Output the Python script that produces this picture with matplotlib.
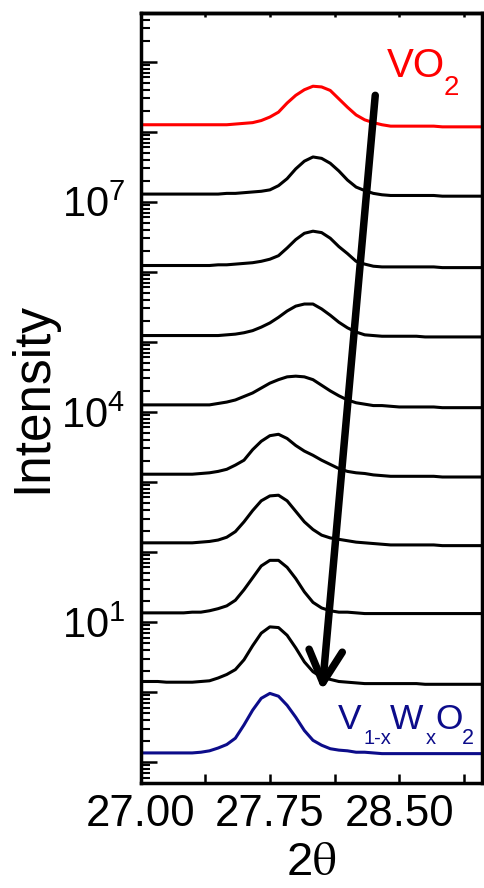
import numpy as np
import matplotlib
matplotlib.use("Agg")
import matplotlib.pyplot as plt
from matplotlib.ticker import FixedLocator, FuncFormatter, LogLocator, NullFormatter

plt.rcParams['font.family'] = ['Liberation Sans', 'DejaVu Sans']
plt.rcParams['mathtext.fontset'] = 'custom'
plt.rcParams['mathtext.rm'] = 'Liberation Sans'
plt.rcParams['mathtext.it'] = 'Liberation Sans:italic'
plt.rcParams['mathtext.bf'] = 'Liberation Sans:bold'

# 2theta sampling (deg)
two_theta = [27.00, 27.05, 27.10, 27.15, 27.20, 27.25, 27.30, 27.35, 27.40, 27.45,
             27.50, 27.55, 27.60, 27.65, 27.70, 27.75, 27.80, 27.85, 27.90, 27.95,
             28.00, 28.05, 28.10, 28.15, 28.20, 28.25, 28.30, 28.35, 28.40, 28.45,
             28.50, 28.55, 28.60, 28.65, 28.70, 28.75, 28.80, 28.85, 28.90, 28.95, 29.00]

# log10(intensity), stacked patterns from VO2 (top) to V1-xWxO2 (bottom)
vo2 = [8.10, 8.10, 8.10, 8.10, 8.10, 8.10, 8.10, 8.10, 8.10, 8.10,
       8.10, 8.11, 8.12, 8.13, 8.16, 8.21, 8.28, 8.41, 8.52, 8.60,
       8.65, 8.64, 8.59, 8.47, 8.35, 8.24, 8.17, 8.13, 8.10, 8.08,
       8.08, 8.08, 8.08, 8.08, 8.08, 8.07, 8.07, 8.07, 8.07, 8.07, 8.07]
s2 = [7.11, 7.11, 7.11, 7.11, 7.11, 7.11, 7.11, 7.11, 7.11, 7.11,
      7.12, 7.12, 7.13, 7.14, 7.15, 7.17, 7.23, 7.33, 7.47, 7.58,
      7.64, 7.62, 7.55, 7.44, 7.31, 7.21, 7.16, 7.12, 7.10, 7.09,
      7.09, 7.09, 7.09, 7.09, 7.09, 7.08, 7.08, 7.08, 7.08, 7.08, 7.08]
s3 = [6.09, 6.09, 6.09, 6.09, 6.09, 6.09, 6.09, 6.09, 6.09, 6.10,
      6.10, 6.11, 6.12, 6.13, 6.15, 6.18, 6.23, 6.34, 6.46, 6.55,
      6.58, 6.56, 6.48, 6.36, 6.26, 6.15, 6.11, 6.08, 6.07, 6.07,
      6.07, 6.07, 6.07, 6.07, 6.07, 6.06, 6.06, 6.06, 6.06, 6.06, 6.06]
s4 = [5.09, 5.09, 5.09, 5.09, 5.09, 5.09, 5.09, 5.09, 5.09, 5.09,
      5.10, 5.11, 5.13, 5.16, 5.21, 5.27, 5.35, 5.44, 5.51, 5.54,
      5.54, 5.47, 5.38, 5.28, 5.20, 5.14, 5.10, 5.09, 5.08, 5.08,
      5.08, 5.08, 5.08, 5.07, 5.07, 5.07, 5.07, 5.07, 5.07, 5.07, 5.07]
s5 = [4.10, 4.10, 4.10, 4.10, 4.10, 4.10, 4.10, 4.10, 4.10, 4.12,
      4.14, 4.17, 4.22, 4.27, 4.34, 4.41, 4.46, 4.50, 4.51, 4.50,
      4.46, 4.38, 4.30, 4.23, 4.17, 4.13, 4.11, 4.09, 4.09, 4.08,
      4.07, 4.07, 4.07, 4.07, 4.07, 4.06, 4.06, 4.06, 4.06, 4.06, 4.06]
s6 = [3.11, 3.11, 3.11, 3.11, 3.11, 3.11, 3.11, 3.12, 3.13, 3.15,
      3.18, 3.24, 3.31, 3.46, 3.58, 3.66, 3.68, 3.62, 3.52, 3.44,
      3.38, 3.31, 3.25, 3.19, 3.15, 3.13, 3.12, 3.10, 3.09, 3.08,
      3.08, 3.08, 3.08, 3.08, 3.08, 3.07, 3.07, 3.07, 3.07, 3.07, 3.07]
s7 = [2.13, 2.13, 2.13, 2.13, 2.13, 2.13, 2.13, 2.14, 2.15, 2.17,
      2.21, 2.29, 2.43, 2.59, 2.73, 2.80, 2.81, 2.73, 2.58, 2.43,
      2.32, 2.24, 2.20, 2.18, 2.16, 2.14, 2.13, 2.12, 2.11, 2.10,
      2.10, 2.10, 2.10, 2.10, 2.10, 2.09, 2.09, 2.09, 2.09, 2.09, 2.09]
s8 = [1.13, 1.13, 1.13, 1.13, 1.13, 1.13, 1.14, 1.14, 1.16, 1.19,
      1.23, 1.31, 1.46, 1.63, 1.80, 1.88, 1.88, 1.78, 1.62, 1.43,
      1.28, 1.20, 1.16, 1.14, 1.14, 1.13, 1.12, 1.12, 1.12, 1.12,
      1.12, 1.12, 1.12, 1.12, 1.12, 1.12, 1.12, 1.12, 1.12, 1.12, 1.12]
s9 = [0.15, 0.15, 0.15, 0.14, 0.14, 0.14, 0.14, 0.15, 0.16, 0.20,
      0.25, 0.32, 0.46, 0.66, 0.84, 0.93, 0.92, 0.81, 0.63, 0.43,
      0.29, 0.21, 0.18, 0.15, 0.14, 0.13, 0.12, 0.12, 0.12, 0.12,
      0.12, 0.12, 0.12, 0.11, 0.11, 0.11, 0.11, 0.11, 0.11, 0.11, 0.11]
vwo2 = [-0.87, -0.87, -0.87, -0.87, -0.87, -0.87, -0.87, -0.86, -0.84, -0.80,
        -0.75, -0.66, -0.47, -0.26, -0.09, -0.02, -0.06, -0.19, -0.36, -0.55,
        -0.69, -0.76, -0.81, -0.83, -0.84, -0.86, -0.86, -0.87, -0.88, -0.88,
        -0.88, -0.88, -0.88, -0.88, -0.88, -0.88, -0.88, -0.88, -0.88, -0.88, -0.88]

curves = [vo2, s2, s3, s4, s5, s6, s7, s8, s9, vwo2]
RED, NAVY = "#ff0000", "#0c0c8a"
colors = [RED] + ["black"] * 8 + [NAVY]

fig = plt.figure(figsize=(4.84, 8.88), dpi=100)
ax = fig.add_axes([0.2903, 0.1182, 0.7056, 0.8675])

for vals, c in zip(curves, colors):
    ax.plot(two_theta, 10 ** np.array(vals), color=c, lw=2.2)

ax.set_yscale("log")
ax.set_xlim(27.0, 28.98)
ax.set_ylim(10 ** -1.30, 10 ** 9.70)

ax.xaxis.set_major_locator(FixedLocator([27.0, 27.75, 28.5]))
ax.xaxis.set_minor_locator(FixedLocator([27.375, 28.125, 28.875]))
ax.xaxis.set_major_formatter(FuncFormatter(lambda v, p: "%.2f" % v))
ax.yaxis.set_major_locator(LogLocator(base=10, numticks=30))
ax.yaxis.set_minor_locator(LogLocator(base=10, subs=np.arange(2, 10), numticks=30))
ax.yaxis.set_major_formatter(FuncFormatter(
    lambda v, p: r"$10^{%d}$" % round(np.log10(v)) if round(np.log10(v)) in (1, 4, 7) else ""))
ax.yaxis.set_minor_formatter(NullFormatter())

ax.tick_params(axis="x", which="both", direction="in", length=6.7, width=1.8,
               labelsize=31.5, pad=8, top=False)
ax.tick_params(axis="y", which="major", direction="in", length=11.5, width=1.8,
               labelsize=30, pad=11, right=False)
ax.tick_params(axis="y", which="minor", direction="in", length=6.5, width=1.5, right=False)
for s in ax.spines.values():
    s.set_linewidth(2.5)

top = ax.secondary_xaxis("top")
top.set_xticks([27.375, 27.75, 28.125, 28.5, 28.875])
top.tick_params(direction="in", length=3, width=1.8, labeltop=False)
top.spines["top"].set_linewidth(2.5)

ax.set_ylabel("Intensity", fontsize=37, labelpad=3)
ax.set_xlabel(r"2$\mathrm{\theta}$", fontsize=34, labelpad=4, math_fontfamily="stix")

# VO2 label (subscript placed lower, as in the original)
ax.text(28.429, 10 ** 8.777, "VO", color=RED, fontsize=29)
ax.text(28.756, 10 ** 8.524, "2", color=RED, fontsize=20)

# V1-xWxO2 label
for xs, ly, txt, fs in [(28.142, -0.523, "V", 25.5), (28.291, -0.747, "1-x", 14.5),
                        (28.448, -0.523, "W", 25.5), (28.651, -0.747, "x", 14.5),
                        (28.709, -0.523, "O", 25.5), (28.864, -0.747, "2", 15.5)]:
    ax.text(xs, 10 ** ly, txt, color=NAVY, fontsize=fs)

ax.annotate("", xy=(28.053, 10 ** 0.02), xytext=(28.361, 10 ** 8.52),
            arrowprops=dict(arrowstyle="->,head_length=1.15,head_width=0.6",
                            lw=5.4, color="black", shrinkA=0, shrinkB=0,
                            mutation_scale=20))

fig.savefig("out.png", dpi=100)
